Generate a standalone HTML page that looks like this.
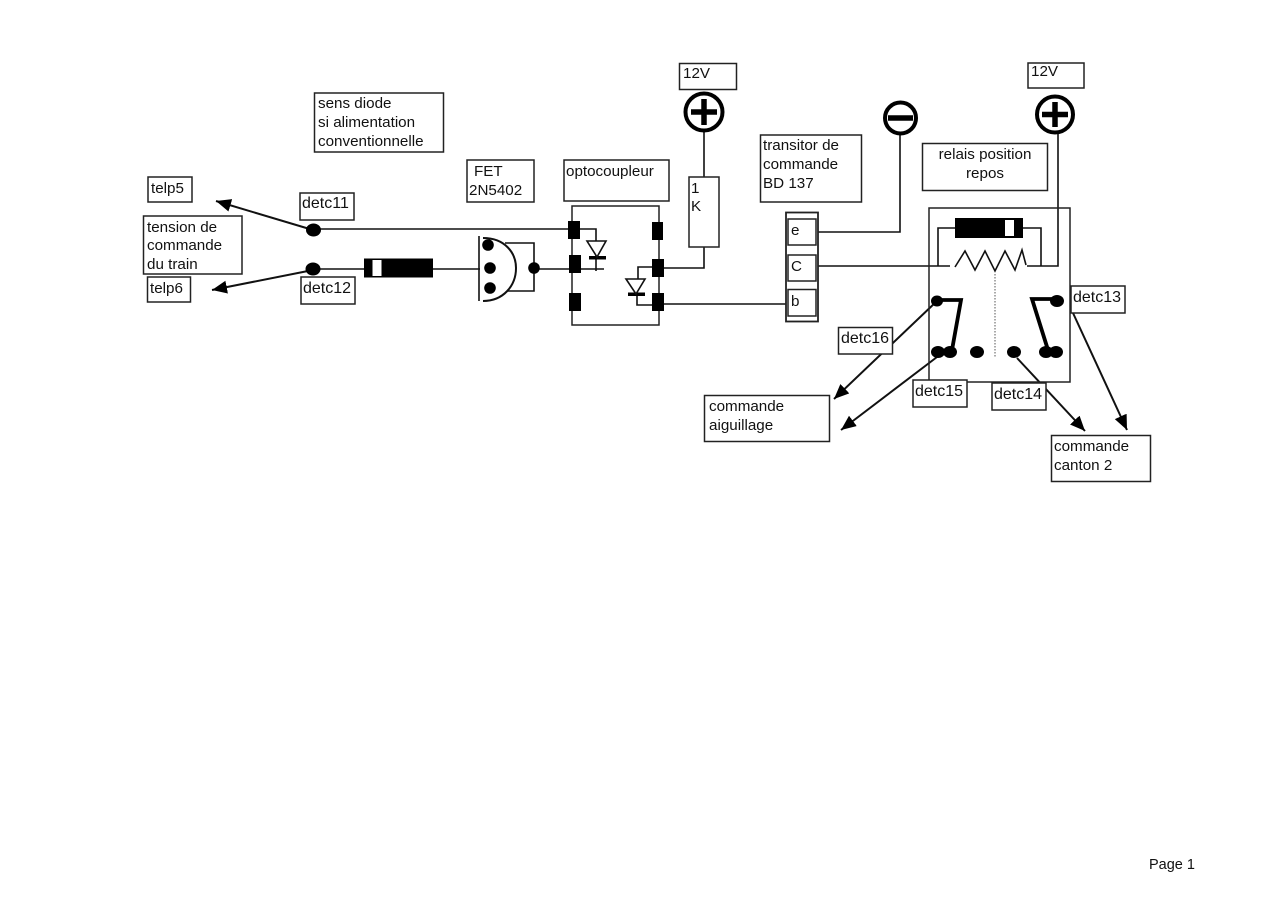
<!DOCTYPE html>
<html><head><meta charset="utf-8"><title>Schéma</title>
<style>html,body{margin:0;padding:0;background:#fff}svg{display:block;filter:blur(.35px)}
text{font-family:"Liberation Sans",sans-serif;font-size:15.2px;fill:#111}
text.d{font-size:16px}
text.p{font-size:14.5px}
.b{fill:none;stroke:#222;stroke-width:1.5}
.l{fill:none;stroke:#111;stroke-width:1.6}
.t{fill:none;stroke:#000;stroke-width:3.8}
.a{fill:none;stroke:#111;stroke-width:2}
</style></head><body>
<svg width="1280" height="905" viewBox="0 0 1280 905" xmlns="http://www.w3.org/2000/svg">
<defs><marker id="ah" markerUnits="userSpaceOnUse" markerWidth="16" markerHeight="14" refX="15" refY="6.5" orient="auto"><path d="M0 0L15 6.5L0 13Z" fill="#000"/></marker></defs>
<!-- wires -->
<path class="l" d="M313 229H572M313 269H364M433 269H480M534 269H604M580 229H596V271M664 268H704V247M704 177V127M663 304H786M818 232H900V132M817 266H950M1027 266H1058V130M938 266V228H955M1023 228H1041V266M638 279V267H652M637 295V305H652M505 243H534V291H507"/>
<path class="a" d="M313 230L216 201" marker-end="url(#ah)"/>
<path class="a" d="M313 270L212 290" marker-end="url(#ah)"/>
<path class="a" d="M937 301L834 399" marker-end="url(#ah)"/>
<path class="a" d="M937 357L841 430" marker-end="url(#ah)"/>
<path class="a" d="M1017 358L1085 431" marker-end="url(#ah)"/>
<path class="a" d="M1073 313L1127 430" marker-end="url(#ah)"/>
<!-- boxes -->
<g fill="#fff" stroke="#222" stroke-width="1.5">
<rect x="148" y="177" width="44" height="25"/>
<rect x="143.500" y="216" width="98.500" height="58"/>
<rect x="147.500" y="277" width="43" height="25"/>
<rect x="300" y="193" width="54" height="27"/>
<rect x="301" y="277" width="54" height="27"/>
<rect x="314.500" y="93" width="129" height="59"/>
<rect x="467" y="160" width="67" height="42"/>
<rect x="564" y="160" width="105" height="41"/>
<rect x="689" y="177" width="30" height="70"/>
<rect x="679.500" y="63.500" width="57" height="26"/>
<rect x="1028" y="63" width="56" height="25"/>
<rect x="760.500" y="135" width="101" height="67"/>
<rect x="922.500" y="143.500" width="125" height="47"/>
<rect x="704.500" y="395.500" width="125" height="46"/>
<rect x="1051.500" y="435.500" width="99" height="46"/>
</g>
<rect class="b" x="572" y="206" width="87" height="119"/>
<rect class="b" x="929" y="208" width="141" height="174"/>
<rect x="786" y="212.500" width="32" height="109" fill="#fff" stroke="#222" stroke-width="1.8"/>
<g fill="#fff" stroke="#222" stroke-width="1.5">
<rect x="788" y="219" width="28" height="26"/>
<rect x="788" y="255" width="28" height="26"/>
<rect x="788" y="289.500" width="28" height="26.500"/>
<rect x="838.500" y="327.500" width="54" height="26.500"/>
<rect x="913" y="380" width="54" height="27"/>
<rect x="992" y="383" width="54" height="27"/>
<rect x="1071" y="286" width="54" height="27"/>
</g>
<!-- left diode -->
<rect x="364" y="258.500" width="69" height="19" fill="#000"/>
<rect x="372.500" y="260" width="9" height="16" fill="#fff"/>
<!-- FET -->
<path class="l" d="M479 236V301"/>
<path fill="none" stroke="#111" stroke-width="2" d="M483 238C505 238 516 253 516 268C516 286 503 301 483 301"/>
<g fill="#000">
<ellipse cx="488" cy="245" rx="5.800" ry="5.800"/>
<ellipse cx="490" cy="268" rx="5.800" ry="5.800"/>
<ellipse cx="490" cy="288" rx="5.800" ry="5.800"/>
<ellipse cx="534" cy="268" rx="5.800" ry="5.800"/>
<!-- pads -->
<rect x="568" y="221" width="12" height="18"/>
<rect x="569" y="255" width="12" height="18"/>
<rect x="569" y="293" width="12" height="18"/>
<rect x="652" y="222" width="11" height="18"/>
<rect x="652" y="259" width="12" height="18"/>
<rect x="652" y="293" width="12" height="18"/>
<rect x="589" y="256" width="17" height="3.500"/>
<rect x="628" y="292.500" width="17" height="3.500"/>
<!-- line dots -->
<ellipse cx="313.500" cy="230" rx="7.500" ry="6.500"/>
<ellipse cx="313" cy="269" rx="7.500" ry="6.500"/>
</g>
<path fill="#fff" stroke="#111" stroke-width="1.6" d="M587 241L606 241L597 257Z"/>
<path fill="#fff" stroke="#111" stroke-width="1.6" d="M626 279L645 279L636 294Z"/>
<!-- power symbols -->
<g fill="#fff" stroke="#000" stroke-width="4">
<circle cx="704" cy="112" r="18.500"/>
<circle cx="900.500" cy="118" r="15.500"/>
<circle cx="1055" cy="114.500" r="18"/>
</g>
<g stroke="#000" stroke-width="5.500" fill="none">
<path d="M691 112H717M704 99V125"/>
<path d="M888 118H913"/>
<path d="M1042 114.500H1068M1055 102V127"/>
</g>
<!-- relay -->
<rect x="955" y="218" width="68" height="20" fill="#000"/>
<rect x="1005" y="220" width="9" height="16" fill="#fff"/>
<path class="l" stroke-width="1.800" d="M955 267L965 251L975 270L985 251L995 271L1005 251L1015 270L1022 250L1026 265"/>
<path d="M995 274V358" stroke="#555" stroke-width="1" stroke-dasharray="1.500 1.500" fill="none"/>
<path class="t" d="M937 300H961L952 350"/>
<path class="t" d="M1057 299H1032L1048 350"/>
<g fill="#000">
<ellipse cx="937" cy="301" rx="6" ry="5.500"/>
<ellipse cx="938" cy="352" rx="7" ry="6"/>
<ellipse cx="950" cy="352" rx="7" ry="6"/>
<ellipse cx="977" cy="352" rx="7" ry="6"/>
<ellipse cx="1014" cy="352" rx="7" ry="6"/>
<ellipse cx="1057" cy="301" rx="7" ry="6"/>
<ellipse cx="1046" cy="352" rx="7" ry="6"/>
<ellipse cx="1056" cy="352" rx="7" ry="6"/>
</g>
<!-- labels -->
<g transform="translate(0,1)">
<text x="151" y="192">telp5</text>
<text x="147" y="231">tension de</text>
<text x="147" y="249">commande</text>
<text x="147" y="268">du train</text>
<text x="150" y="292">telp6</text>
<text class="d" x="302" y="207">detc11</text>
<text class="d" x="303" y="292">detc12</text>
<text x="318" y="107">sens diode</text>
<text x="318" y="126">si alimentation</text>
<text x="318" y="145">conventionnelle</text>
<text x="474" y="175">FET</text>
<text x="469" y="194">2N5402</text>
<text x="566" y="175">optocoupleur</text>
<text x="691" y="192">1</text>
<text x="691" y="210">K</text>
<text x="683" y="77">12V</text>
<text x="1031" y="75">12V</text>
<text x="763" y="149">transitor de</text>
<text x="763" y="168">commande</text>
<text x="763" y="187">BD 137</text>
<text x="985" y="158" text-anchor="middle">relais position</text>
<text x="985" y="177" text-anchor="middle">repos</text>
<text x="791" y="234">e</text>
<text x="791" y="270">C</text>
<text x="791" y="305">b</text>
<text class="d" x="841" y="342">detc16</text>
<text class="d" x="915" y="395">detc15</text>
<text class="d" x="994" y="398">detc14</text>
<text class="d" x="1073" y="301">detc13</text>
<text x="709" y="410">commande</text>
<text x="709" y="429">aiguillage</text>
<text x="1054" y="450">commande</text>
<text x="1054" y="469">canton 2</text>
</g>
<text class="p" x="1149" y="869">Page 1</text>
</svg>
</body></html>
